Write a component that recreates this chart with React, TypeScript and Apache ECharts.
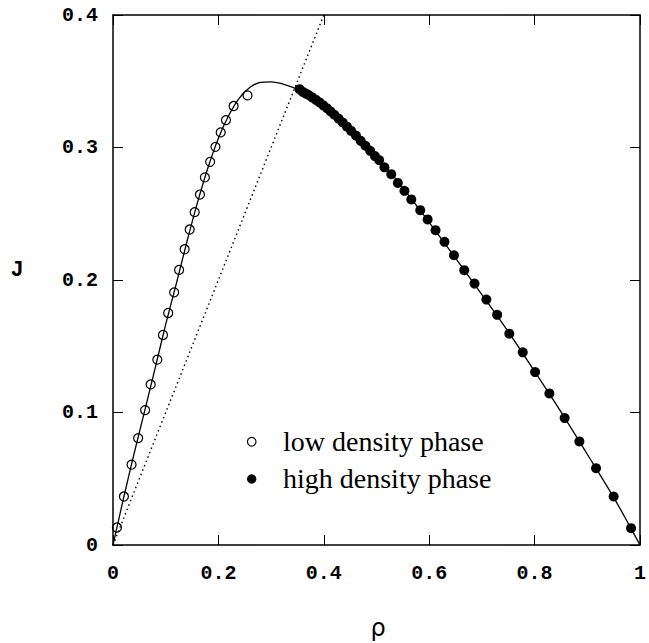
import React, { useEffect, useRef } from "react";
import * as echarts from "echarts";

// Open circles: low density phase (rho, J)
const lowRho = [0.0075, 0.0207, 0.0352, 0.0477, 0.0609, 0.0715, 0.0841, 0.0948, 0.1047, 0.116, 0.1254, 0.136, 0.1455, 0.155, 0.165, 0.1743, 0.1843, 0.1944, 0.2044, 0.2144, 0.2289, 0.2552];
const lowJ = [0.0132, 0.0366, 0.0606, 0.0807, 0.1018, 0.1212, 0.1399, 0.1585, 0.1751, 0.1907, 0.2076, 0.2232, 0.2381, 0.2512, 0.2645, 0.2774, 0.2892, 0.3005, 0.3114, 0.3207, 0.3313, 0.3393];

// Filled circles: high density phase (rho, J)
const highRho = [0.354, 0.36, 0.366, 0.372, 0.378, 0.385, 0.392, 0.399, 0.406, 0.413, 0.42, 0.428, 0.436, 0.444, 0.452, 0.461, 0.47, 0.479, 0.488, 0.497, 0.505, 0.515, 0.528, 0.5405, 0.553, 0.566, 0.583, 0.597, 0.612, 0.629, 0.647, 0.6665, 0.686, 0.7085, 0.729, 0.752, 0.7775, 0.801, 0.828, 0.857, 0.885, 0.9166, 0.95, 0.983];
const highJ = [0.344, 0.342, 0.3407, 0.3394, 0.3378, 0.336, 0.334, 0.3318, 0.3296, 0.3272, 0.3247, 0.3218, 0.3189, 0.3157, 0.3125, 0.309, 0.305, 0.3013, 0.2975, 0.2935, 0.2905, 0.285, 0.2799, 0.2733, 0.2673, 0.2608, 0.2527, 0.2457, 0.2376, 0.2288, 0.2187, 0.2074, 0.1973, 0.1852, 0.1737, 0.1595, 0.1454, 0.1305, 0.1144, 0.0958, 0.0782, 0.058, 0.0366, 0.0127];

// Solid theory curve (rho, J)
const curveRho = [0, 0.01, 0.02, 0.04, 0.06, 0.08, 0.1, 0.12, 0.14, 0.16, 0.18, 0.2, 0.22, 0.24, 0.26, 0.28, 0.3, 0.32, 0.34, 0.36, 0.38, 0.4, 0.42, 0.44, 0.46, 0.48, 0.5, 0.55, 0.6, 0.65, 0.7, 0.75, 0.8, 0.85, 0.9, 0.95, 1.0];
const curveJ = [0, 0.0177, 0.0353, 0.069, 0.101, 0.1335, 0.1665, 0.197, 0.2285, 0.258, 0.2845, 0.307, 0.3245, 0.3375, 0.3455, 0.3492, 0.3496, 0.3482, 0.3455, 0.342, 0.3375, 0.332, 0.3255, 0.3185, 0.311, 0.303, 0.294, 0.2695, 0.2435, 0.2165, 0.189, 0.161, 0.131, 0.1005, 0.0685, 0.036, 0];

// Dotted free-flow line J = rho
const freeRho = [0, 0.4];
const freeJ = [0, 0.4];

// Tick labels
const xTickLabels = ["0", "0.2", "0.4", "0.6", "0.8", "1"];
const yTickLabels = ["0", "0.1", "0.2", "0.3", "0.4"];

const legendLabels = ["low density phase", "high density phase"];

const zip = (a: number[], b: number[]) => a.map((v, i) => [v, b[i]]);

export default function App() {
  const ref = useRef<HTMLDivElement>(null);
  useEffect(() => {
    if (!ref.current) return;
    const chart = echarts.init(ref.current, null, { renderer: "svg" });
    const tickFont = {
      fontFamily: "Liberation Mono",
      fontWeight: "bold" as const,
      fontSize: 20,
      color: "#000",
    };
    const axisCommon = {
      axisLine: { show: true, onZero: false, lineStyle: { color: "#000", width: 1.5 } },
      axisTick: { show: true, inside: true, length: 10, lineStyle: { color: "#000", width: 1 } },
      splitLine: { show: false },
    };
    chart.setOption({
      animation: false,
      backgroundColor: "#fff",
      grid: { left: 113, top: 15, width: 532, height: 530 },
      xAxis: [
        {
          type: "value",
          min: 0,
          max: 1,
          interval: 0.2,
          position: "bottom",
          ...axisCommon,
          axisLabel: {
            ...tickFont,
            margin: 18,
            formatter: (v: number) => xTickLabels[Math.round(v / 0.2)],
          },
        },
        {
          type: "value",
          min: 0,
          max: 1,
          interval: 0.2,
          position: "top",
          ...axisCommon,
          axisLabel: { show: false },
        },
      ],
      yAxis: [
        {
          type: "value",
          min: 0,
          max: 0.4,
          interval: 0.1,
          position: "left",
          ...axisCommon,
          axisLabel: {
            ...tickFont,
            margin: 15,
            formatter: (v: number) => yTickLabels[Math.round(v / 0.1)],
          },
        },
        {
          type: "value",
          min: 0,
          max: 0.4,
          interval: 0.1,
          position: "right",
          ...axisCommon,
          axisLabel: { show: false },
        },
      ],
      series: [
        {
          type: "line",
          data: zip(freeRho, freeJ),
          symbol: "none",
          lineStyle: { color: "#000", width: 1.4, type: [1.5, 3.2] },
          z: 1,
        },
        {
          type: "line",
          data: zip(curveRho, curveJ),
          symbol: "none",
          smooth: 0.3,
          lineStyle: { color: "#000", width: 1.3 },
          z: 2,
        },
        {
          type: "scatter",
          name: legendLabels[0],
          data: zip(lowRho, lowJ),
          symbol: "circle",
          symbolSize: 9,
          itemStyle: { color: "none", borderColor: "#000", borderWidth: 1.2, opacity: 1 },
          z: 3,
        },
        {
          type: "scatter",
          name: legendLabels[1],
          data: zip(highRho, highJ),
          symbol: "circle",
          symbolSize: 10,
          itemStyle: { color: "#000", opacity: 1 },
          z: 4,
        },
      ],
      graphic: [
        {
          type: "circle",
          shape: { cx: 251.7, cy: 441.7, r: 4.3 },
          style: { fill: "none", stroke: "#000", lineWidth: 1.2 },
        },
        {
          type: "circle",
          shape: { cx: 251.7, cy: 479, r: 4.7 },
          style: { fill: "#000" },
        },
        {
          type: "text",
          x: 283,
          y: 441,
          style: {
            text: legendLabels[0],
            font: "28px 'Liberation Serif'",
            fill: "#000",
            verticalAlign: "middle",
          },
        },
        {
          type: "text",
          x: 283,
          y: 478,
          style: {
            text: legendLabels[1],
            font: "28px 'Liberation Serif'",
            fill: "#000",
            verticalAlign: "middle",
          },
        },
        {
          type: "text",
          x: 17,
          y: 270,
          style: {
            text: "J",
            font: "bold 22px 'Liberation Mono'",
            fill: "#000",
            align: "center",
            verticalAlign: "middle",
          },
        },
        {
          type: "text",
          x: 378,
          y: 628,
          style: {
            text: "ρ",
            font: "24px 'DejaVu Sans'",
            fill: "#000",
            align: "center",
            verticalAlign: "middle",
          },
        },
      ],
    });
    return () => chart.dispose();
  }, []);
  return (
    <div
      ref={ref}
      style={{ position: "fixed", left: 0, top: 0, width: 649, height: 643, background: "#fff" }}
    />
  );
}
